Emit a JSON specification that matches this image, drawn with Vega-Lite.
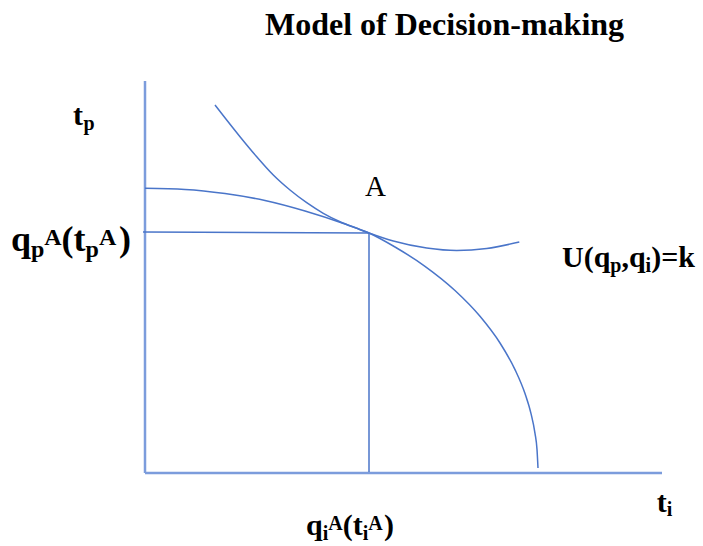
{
  "$schema": "https://vega.github.io/schema/vega-lite/v6.json",
  "width": 703,
  "height": 546,
  "autosize": {"type": "fit", "contains": "padding"},
  "padding": 0,
  "background": "white",
  "config": {"view": {"stroke": null}},
  "datasets": {
    "axes": [
      {"x": 0, "y": 0, "x2": 0, "y2": 392},
      {"x": 0, "y": 0, "x2": 517, "y2": 0}
    ],
    "guides": [
      {"x": -2, "y": 241, "x2": 224, "y2": 240},
      {"x": 224, "y": 240, "x2": 224, "y2": 1}
    ],
    "ppf": [
      {"x": 0, "y": 284.7}, {"x": 40, "y": 283.6}, {"x": 80, "y": 279.5}, {"x": 120, "y": 272.5},
      {"x": 160, "y": 262}, {"x": 200, "y": 249}, {"x": 224, "y": 240}, {"x": 250, "y": 226},
      {"x": 280, "y": 206.7}, {"x": 310, "y": 182.5}, {"x": 335, "y": 156.7}, {"x": 355, "y": 130},
      {"x": 370, "y": 103.4}, {"x": 380, "y": 79.4}, {"x": 386, "y": 59.3}, {"x": 390, "y": 39.7},
      {"x": 392, "y": 23.6}, {"x": 393, "y": 5}
    ],
    "ic": [
      {"x": 70, "y": 368}, {"x": 81.7, "y": 353}, {"x": 95, "y": 336.3}, {"x": 111.7, "y": 316.3},
      {"x": 128.3, "y": 298}, {"x": 145, "y": 283}, {"x": 161.7, "y": 270.3}, {"x": 178.3, "y": 259.7},
      {"x": 195, "y": 251.3}, {"x": 211.7, "y": 244.7}, {"x": 224, "y": 240}, {"x": 248.3, "y": 232},
      {"x": 281.7, "y": 225}, {"x": 311.7, "y": 222.5}, {"x": 341.7, "y": 224.5}, {"x": 374.3, "y": 231}
    ],
    "title": [{"x": 120, "y": 438, "t": "Model of Decision-making"}],
    "main30": [
      {"x": -72, "y": 348, "t": "t"},
      {"x": 417, "y": 206, "t": "U(q"},
      {"x": 476.4, "y": 206, "t": ",q"},
      {"x": 506.2, "y": 206, "t": ")=k"},
      {"x": 161, "y": -62, "t": "q"},
      {"x": 197.7, "y": -62, "t": "(t"},
      {"x": 239, "y": -62, "t": ")"},
      {"x": 511.7, "y": -38.7, "t": "t"}
    ],
    "sub20": [
      {"x": -61.5, "y": 343, "t": "p"},
      {"x": 465.3, "y": 201, "t": "p"},
      {"x": 500.6, "y": 201, "t": "i"},
      {"x": 177.7, "y": -67, "t": "i"},
      {"x": 183.3, "y": -57, "t": "A"},
      {"x": 217.7, "y": -67, "t": "i"},
      {"x": 223.3, "y": -57, "t": "A"},
      {"x": 521.7, "y": -43, "t": "i"}
    ],
    "main36": [
      {"x": -134, "y": 222, "t": "q"},
      {"x": -83.4, "y": 222, "t": "(t"},
      {"x": -26, "y": 222, "t": ")"}
    ],
    "sub24": [
      {"x": -114, "y": 216, "t": "p"},
      {"x": -100.7, "y": 228, "t": "A"},
      {"x": -59.4, "y": 216, "t": "p"},
      {"x": -46.1, "y": 228, "t": "A"}
    ],
    "pointA": [{"x": 220, "y": 277, "t": "A"}]
  },
  "encoding": {
    "x": {"field": "x", "type": "quantitative", "scale": {"domain": [-145, 558], "nice": false, "zero": false}, "axis": null},
    "y": {"field": "y", "type": "quantitative", "scale": {"domain": [-73, 473], "nice": false, "zero": false}, "axis": null}
  },
  "layer": [
    {
      "data": {"name": "axes"},
      "mark": {"type": "rule", "color": "#7C9CDC", "strokeWidth": 2.5},
      "encoding": {"x2": {"field": "x2"}, "y2": {"field": "y2"}}
    },
    {
      "data": {"name": "guides"},
      "mark": {"type": "rule", "color": "#4A75C9", "strokeWidth": 1.5},
      "encoding": {"x2": {"field": "x2"}, "y2": {"field": "y2"}}
    },
    {
      "data": {"name": "ppf"},
      "mark": {"type": "line", "color": "#4A75C9", "strokeWidth": 1.5, "interpolate": "monotone"},
      "encoding": {}
    },
    {
      "data": {"name": "ic"},
      "mark": {"type": "line", "color": "#4A75C9", "strokeWidth": 1.5, "interpolate": "monotone"},
      "encoding": {}
    },
    {
      "data": {"name": "title"},
      "mark": {"type": "text", "font": "Liberation Serif", "fontWeight": "bold", "fontSize": 32, "align": "left", "baseline": "alphabetic", "color": "black"},
      "encoding": {"text": {"field": "t"}}
    },
    {
      "data": {"name": "main30"},
      "mark": {"type": "text", "font": "Liberation Serif", "fontWeight": "bold", "fontSize": 30, "align": "left", "baseline": "alphabetic", "color": "black"},
      "encoding": {"text": {"field": "t"}}
    },
    {
      "data": {"name": "sub20"},
      "mark": {"type": "text", "font": "Liberation Serif", "fontWeight": "bold", "fontSize": 20, "align": "left", "baseline": "alphabetic", "color": "black"},
      "encoding": {"text": {"field": "t"}}
    },
    {
      "data": {"name": "main36"},
      "mark": {"type": "text", "font": "Liberation Serif", "fontWeight": "bold", "fontSize": 36, "align": "left", "baseline": "alphabetic", "color": "black"},
      "encoding": {"text": {"field": "t"}}
    },
    {
      "data": {"name": "sub24"},
      "mark": {"type": "text", "font": "Liberation Serif", "fontWeight": "bold", "fontSize": 24, "align": "left", "baseline": "alphabetic", "color": "black"},
      "encoding": {"text": {"field": "t"}}
    },
    {
      "data": {"name": "pointA"},
      "mark": {"type": "text", "font": "Liberation Serif", "fontSize": 29, "align": "left", "baseline": "alphabetic", "color": "black"},
      "encoding": {"text": {"field": "t"}}
    }
  ]
}
